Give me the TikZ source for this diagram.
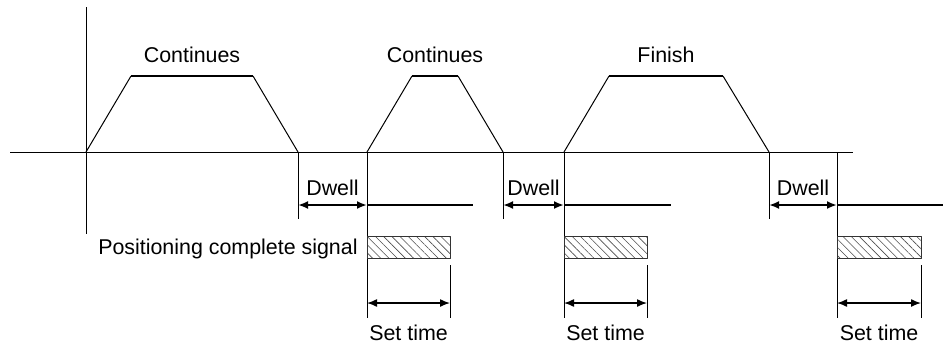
\documentclass[tikz,border=0pt]{standalone}
\usepackage{fontspec}
\setmainfont{Liberation Sans}
\usetikzlibrary{arrows.meta,patterns.meta}
\tikzset{
  axis/.style={line width=0.5pt},
  ramp/.style={line width=0.5pt},
  flat/.style={line width=1pt},
  guide/.style={line width=0.5pt},
  dwellarrow/.style={line width=1pt,<->},
  settime/.style={line width=0.7pt,<->},
  hatch/.style={pattern={Lines[angle=-45,distance=2.9pt,line width=0.3pt]},pattern color=black!70},
  lbl/.style={anchor=base,inner sep=0pt}
}
\begin{document}
\begin{tikzpicture}[x=0.5pt,y=-0.5pt,>={Latex[length=5pt,width=4pt]},font=\fontsize{10.7}{12}\selectfont,line join=round]
\useasboundingbox (0,0) rectangle (946,345);
% axes
\coordinate (xl) at (10,152); \coordinate (xr) at (853,152);
\coordinate (yt) at (86,7); \coordinate (yb) at (86,234);
\draw[axis] (xl)--(xr);
\draw[axis] (yt)--(yb);
\node[lbl,anchor=base east] (pcs) at (358,254) {Positioning complete signal};
% one cycle per pass: start/top-left/top-right/end/next start/signal end/line end
\foreach \i/\s/\a/\b/\e/\n/\f/\g/\txt in {1/86/131/253/298/367/450/473/Continues,
  2/367/412/458/503/564/647/671/Continues, 3/564/609/723/769/837/921/943/Finish}{
  \coordinate (s\i) at (\s,152); \coordinate (a\i) at (\a,76);
  \coordinate (b\i) at (\b,76); \coordinate (e\i) at (\e,152);
  \draw[ramp] (s\i)--(a\i) (b\i)--(e\i);
  \draw[flat] (a\i)--(b\i);
  \node[lbl] (mode\i) at ({(\a+\b)/2},62.5) {\txt};
  % dwell
  \coordinate (eb\i) at (\e,219); \coordinate (nt\i) at (\n,152); \coordinate (nb\i) at (\n,318);
  \coordinate (dl\i) at (\e,205); \coordinate (dr\i) at (\n,205); \coordinate (dg\i) at (\g,205);
  \draw[guide] (e\i)--(eb\i);
  \draw[guide] (nt\i)--(nb\i);
  \draw[dwellarrow] (dl\i)--(dr\i);
  \draw[flat] (dr\i)--(dg\i);
  \node[lbl] (dwell\i) at ({(\e+\n)/2},195) {Dwell};
  % positioning complete signal
  \coordinate (pa\i) at (\n,236); \coordinate (pb\i) at (\f,258);
  \fill[hatch] (pa\i) rectangle (pb\i);
  \draw[guide,black!80] (pa\i) rectangle (pb\i);
  \coordinate (ft\i) at (\f,265); \coordinate (fb\i) at (\f,318);
  \coordinate (sl\i) at (\n,303); \coordinate (sr\i) at (\f,303);
  \draw[guide] (ft\i)--(fb\i);
  \draw[settime] (sl\i)--(sr\i);
  \node[lbl] (set\i) at ({(\n+\f)/2},340) {Set time};
}
\end{tikzpicture}
\end{document}
